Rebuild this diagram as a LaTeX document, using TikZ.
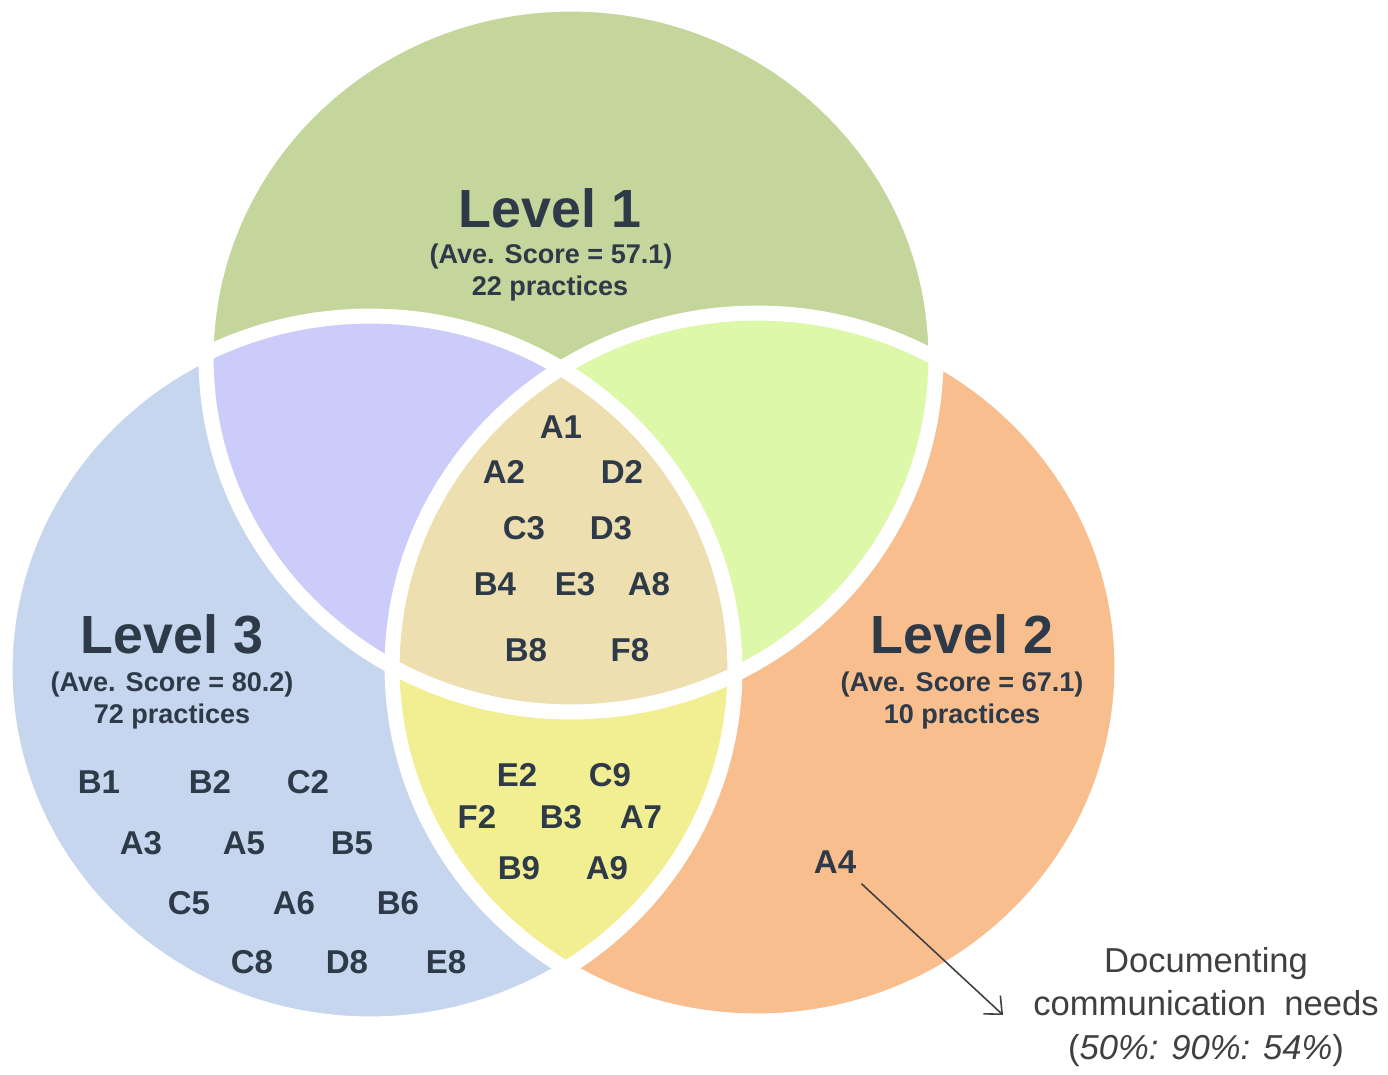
\documentclass[tikz,border=0pt]{standalone}
\usepackage{fontspec}
\setmainfont{Liberation Sans}
\usetikzlibrary{arrows.meta}
\definecolor{cgreen}{RGB}{196,214,155}
\definecolor{cblue}{RGB}{198,214,238}
\definecolor{corange}{RGB}{249,190,142}
\definecolor{cpurple}{RGB}{204,204,250}
\definecolor{clgreen}{RGB}{220,248,168}
\definecolor{cyellow}{RGB}{242,238,146}
\definecolor{ctan}{RGB}{238,223,176}
\definecolor{txt}{RGB}{46,58,72}
\definecolor{notec}{RGB}{64,64,64}
\tikzset{
  lvl/.style={font=\fontsize{30.6}{36}\selectfont\bfseries, text=txt, inner sep=0pt},
  sub/.style={font=\fontsize{15.4}{18}\selectfont\bfseries, text=txt, inner sep=0pt},
  code/.style={font=\fontsize{18.8}{22}\selectfont\bfseries, text=txt, inner sep=0pt},
  note/.style={font=\fontsize{19.7}{25}\selectfont, text=notec, align=center, inner sep=0pt},
  rim/.style={draw=white, line width=0.3cm},
  pointer/.style={draw=notec, line width=0.9pt, -{Straight Barb[length=0.28cm,width=0.5cm]}}
}
\begin{document}
\begin{tikzpicture}[x=0.02cm,y=-0.02cm]
\useasboundingbox (0,0) rectangle (1388,1074);
\def\topc{(571,358) ellipse [x radius=7.3cm, y radius=7.08cm]}
\def\leftc{(370,670) ellipse [x radius=7.3cm, y radius=7.08cm]}
\def\rightc{(757,667) ellipse [x radius=7.3cm, y radius=7.08cm]}
% base fills
\fill[cgreen] \topc;
\fill[cblue] \leftc;
\fill[corange] \rightc;
% pairwise intersections
\begin{scope}\clip \leftc; \fill[cpurple] \topc; \end{scope}
\begin{scope}\clip \topc; \fill[clgreen] \rightc; \end{scope}
\begin{scope}\clip \leftc; \fill[cyellow] \rightc; \end{scope}
\begin{scope}\clip \leftc; \clip \topc; \fill[ctan] \rightc; \end{scope}
% white rims
\path[rim] \topc;
\path[rim] \leftc;
\path[rim] \rightc;
% level titles
\node[lvl] (l1) at (550,208) {Level 1};
\node[sub] (l1s) at (551,257) {(Ave. Score = 57.1)};
\node[sub] (l1p) at (550,289) {22 practices};
\node[lvl] (l3) at (172,634) {Level 3};
\node[sub] (l3s) at (172,684) {(Ave. Score = 80.2)};
\node[sub] (l3p) at (172,716) {72 practices};
\node[lvl] (l2) at (962,634) {Level 2};
\node[sub] (l2s) at (962,684) {(Ave. Score = 67.1)};
\node[sub] (l2p) at (962,716) {10 practices};
% centre region
\node[code] (cA1) at (561,427) {A1};
\node[code] (cA2) at (504,472) {A2};
\node[code] (cD2) at (622,472) {D2};
\node[code] (cC3) at (524,528) {C3};
\node[code] (cD3) at (611,528) {D3};
\node[code] (cB4) at (495,584) {B4};
\node[code] (cE3) at (575,584) {E3};
\node[code] (cA8) at (649,584) {A8};
\node[code] (cB8) at (526,650) {B8};
\node[code] (cF8) at (630,650) {F8};
% yellow region
\node[code] (yE2) at (517,775) {E2};
\node[code] (yC9) at (610,775) {C9};
\node[code] (yF2) at (477,817) {F2};
\node[code] (yB3) at (561,817) {B3};
\node[code] (yA7) at (641,817) {A7};
\node[code] (yB9) at (519,868) {B9};
\node[code] (yA9) at (607,868) {A9};
% blue region
\node[code] (bB1) at (99,782) {B1};
\node[code] (bB2) at (210,782) {B2};
\node[code] (bC2) at (308,782) {C2};
\node[code] (bA3) at (141,843) {A3};
\node[code] (bA5) at (244,843) {A5};
\node[code] (bB5) at (352,843) {B5};
\node[code] (bC5) at (189,903) {C5};
\node[code] (bA6) at (294,903) {A6};
\node[code] (bB6) at (398,903) {B6};
\node[code] (bC8) at (252,962) {C8};
\node[code] (bD8) at (347,962) {D8};
\node[code] (bE8) at (446,962) {E8};
% orange region
\node[code] (oA4) at (835,862) {A4};
\node[note] (doc) at (1206,1007) {Documenting\\communication\hspace{0.25em} needs\\(\textit{50\%: 90\%: 54\%})};
\coordinate (arrE) at (1003,1015);
\draw[pointer] ([shift={(5,10)}]oA4.south east) -- (arrE);
\end{tikzpicture}
\end{document}
